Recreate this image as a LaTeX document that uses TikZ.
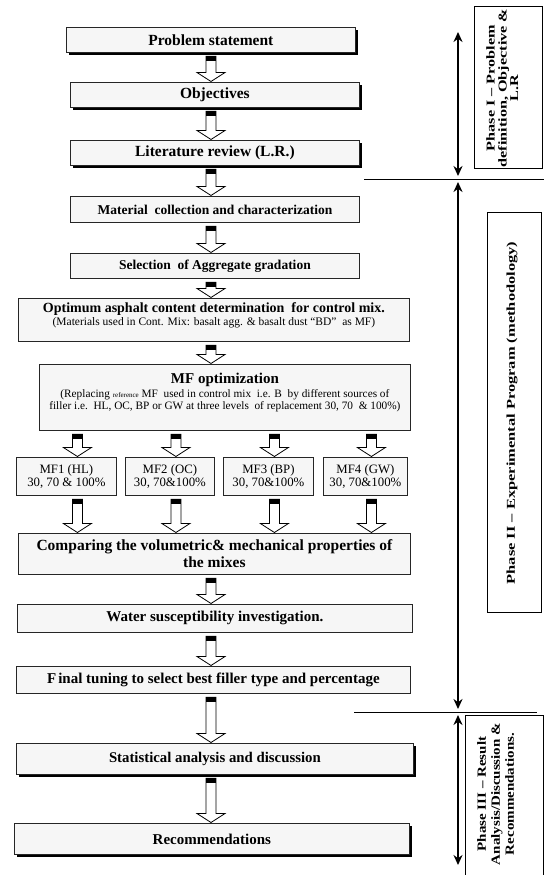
\documentclass[tikz,border=0pt]{standalone}
\usepackage{graphicx}
\usepackage{fontspec}
\setmainfont{Liberation Serif}
\usetikzlibrary{arrows.meta,shadows,calc}
\newcommand\fs[1]{\fontsize{#1}{#1}\selectfont}
\tikzset{
  box/.style={draw=black!85, fill=gray!7, line width=0.8pt, anchor=north west, inner sep=0pt, align=center},
  shad/.style={general shadow={fill=black, shadow xshift=3pt, shadow yshift=-3pt}},
  phasebox/.style={draw=black, fill=white, line width=0.8pt, anchor=north west, inner sep=0pt},
  phasetext/.style={rotate=90, align=center, inner sep=0pt, font=\bfseries},
  phasearrow/.style={line width=2.2pt, {Stealth[length=10pt,width=9pt]}-{Stealth[length=10pt,width=9pt]}},
  sepline/.style={line width=0.8pt},
  barrow/.style={draw=black, fill=white, line width=0.8pt, line join=miter},
}
% block arrow from node #1 (bottom) to node #2 (top), at the x of node #3 shifted by #4
\newcommand\blockarrow[4]{%
  \draw[barrow] let \p1=(#1.south), \p2=(#2.north), \p3=(#3) in
    (\x3+#4-5pt,\y1-3.5pt) -- (\x3+#4-5pt,\y2+9.5pt) -- (\x3+#4-14pt,\y2+9.5pt)
    -- (\x3+#4,\y2+0.5pt) -- (\x3+#4+14pt,\y2+9.5pt) -- (\x3+#4+5pt,\y2+9.5pt)
    -- (\x3+#4+5pt,\y1-3.5pt) -- cycle;
  \fill let \p1=(#1.south), \p3=(#3) in
    (\x3+#4-5pt,\y1-3.5pt) rectangle (\x3+#4+5pt,\y1-8.5pt);
}
\begin{document}
\begin{tikzpicture}[x=1pt,y=-1pt]
\useasboundingbox (0,0) rectangle (547,875);
\fill[white] (0,0) rectangle (547,875);
\coordinate (axis) at (211,0);

% main column
\node[box,shad,minimum width=289pt,minimum height=25pt,font=\bfseries\fs{15.5}] (prob) at (66,27) {Problem statement};
\node[box,shad,minimum width=289pt,minimum height=25pt,font=\bfseries\fs{15.5}] (obj) at (70,82) {Objectives};
\node[box,shad,minimum width=289pt,minimum height=25pt,font=\bfseries\fs{15.5}] (lit) at (70,140) {Literature review (L.R.)};
\node[box,minimum width=289pt,minimum height=26pt,font=\bfseries\fs{13.5}] (mat) at (70,196) {Material\ \ collection\ and\ characterization};
\node[box,minimum width=289pt,minimum height=25pt,font=\bfseries\fs{13.5}] (sel) at (70,253) {Selection\ \ of\ Aggregate\ gradation};
\node[box,minimum width=391pt,minimum height=43pt] (opt) at (18,298)
  {{\bfseries\fs{14}Optimum asphalt content determination\ \ for control mix.}\\[1pt]
   {\fs{11.5}(Materials used in Cont. Mix: basalt agg. \& basalt dust ``BD''\ \ as MF)\rule[-12pt]{0pt}{12pt}}};
\node[box,minimum width=371pt,minimum height=66pt] (mfo) at (39,364)
  {{\bfseries\fs{15}MF optimization}\\[2pt]
   {\fs{11.3}(Replacing {\fs{7}reference} MF\ \ used in control mix\ \ i.e. B\ \ by different sources of}\\[0pt]
   {\fs{11.3}filler i.e.\ \ HL, OC, BP or GW at three levels\ \ of replacement 30, 70\ \ \& 100\%)\rule[-13pt]{0pt}{13pt}}};
\node[box,minimum width=100pt,minimum height=38pt,font=\fs{12.8}] (mf1) at (16,457) {MF1 (HL)\\30, 70 \& 100\%};
\node[box,minimum width=89pt,minimum height=38pt,font=\fs{12.8}] (mf2) at (125,457) {MF2 (OC)\\30, 70\&100\%};
\node[box,minimum width=90pt,minimum height=38pt,font=\fs{12.8}] (mf3) at (223,457) {MF3 (BP)\\30, 70\&100\%};
\node[box,minimum width=84pt,minimum height=38pt,font=\fs{12.8}] (mf4) at (323,457) {MF4 (GW)\\30, 70\&100\%};
\node[box,minimum width=392pt,minimum height=41pt,font=\bfseries\fontsize{15.5}{17}\selectfont] (cmp) at (18,533)
  {Comparing the volumetric\& mechanical properties of\\the mixes};
\node[box,minimum width=395pt,minimum height=28pt,font=\bfseries\fs{15}] (wat) at (17,604) {Water susceptibility investigation.};
\node[box,minimum width=394pt,minimum height=27pt,font=\bfseries\fs{15}] (fin) at (16,666) {F\kern2pt inal tuning to select best filler type and percentage};
\node[box,shad,minimum width=397pt,minimum height=31pt,font=\bfseries\fs{14.8}] (sta) at (16,743) {Statistical analysis and discussion};
\node[box,shad,minimum width=395pt,minimum height=31pt,font=\bfseries\fs{15}] (rec) at (14,823) {Recommendations};

% block arrows
\blockarrow{prob}{obj}{axis}{0pt}
\blockarrow{obj}{lit}{axis}{0pt}
\blockarrow{lit}{mat}{axis}{0pt}
\blockarrow{mat}{sel}{axis}{0pt}
\blockarrow{sel}{opt}{axis}{0pt}
\blockarrow{opt}{mfo}{axis}{0pt}
\blockarrow{mfo}{mf1}{mf1}{11pt}
\blockarrow{mfo}{mf2}{mf2}{6pt}
\blockarrow{mfo}{mf3}{mf3}{6pt}
\blockarrow{mfo}{mf4}{mf4}{6pt}
\blockarrow{mf1}{cmp}{mf1}{11pt}
\blockarrow{mf2}{cmp}{mf2}{6pt}
\blockarrow{mf3}{cmp}{mf3}{6pt}
\blockarrow{mf4}{cmp}{mf4}{6pt}
\blockarrow{cmp}{wat}{axis}{0pt}
\blockarrow{wat}{fin}{axis}{0pt}
\blockarrow{fin}{sta}{axis}{0pt}
\blockarrow{sta}{rec}{axis}{0pt}

% phases
\node[phasebox,minimum width=68pt,minimum height=162pt] (pb1) at (474,6) {};
\node[phasebox,minimum width=54pt,minimum height=400pt] (pb2) at (487,212) {};
\node[phasebox,minimum width=78pt,minimum height=163pt] (pb3) at (465,715) {};
\node[phasetext] (ph1) at (504,88) {\scalebox{1.35}[1]{\fontsize{12}{11.5}\selectfont\begin{tabular}{@{}c@{}}Phase I – Problem\\ definition, Objective \&\\ L.R\end{tabular}}};
\node[phasetext] (ph2) at (512,413) {\scalebox{1.37}[1]{\fs{12}Phase II – Experimental Program (methodology)}};
\node[phasetext] (ph3) at (497,794) {\scalebox{1.2}[1]{\fontsize{12.5}{14}\selectfont\begin{tabular}{@{}c@{}}Phase III – Result\\ Analysis/Discussion \&\\ Recommendations.\end{tabular}}};

\coordinate (a1t) at (458,32);  \coordinate (a1b) at (458,176);
\coordinate (a2t) at (458,182); \coordinate (a2b) at (458,709);
\coordinate (a3t) at (458,715); \coordinate (a3b) at (458,865);
\draw[phasearrow] (a1t) -- (a1b);
\draw[phasearrow] (a2t) -- (a2b);
\draw[phasearrow] (a3t) -- (a3b);
\coordinate (l1a) at (364,179); \coordinate (l1b) at (544,179);
\coordinate (l2a) at (354,712); \coordinate (l2b) at (537,712);
\draw[sepline] (l1a) -- (l1b);
\draw[sepline] (l2a) -- (l2b);
\end{tikzpicture}
\end{document}
